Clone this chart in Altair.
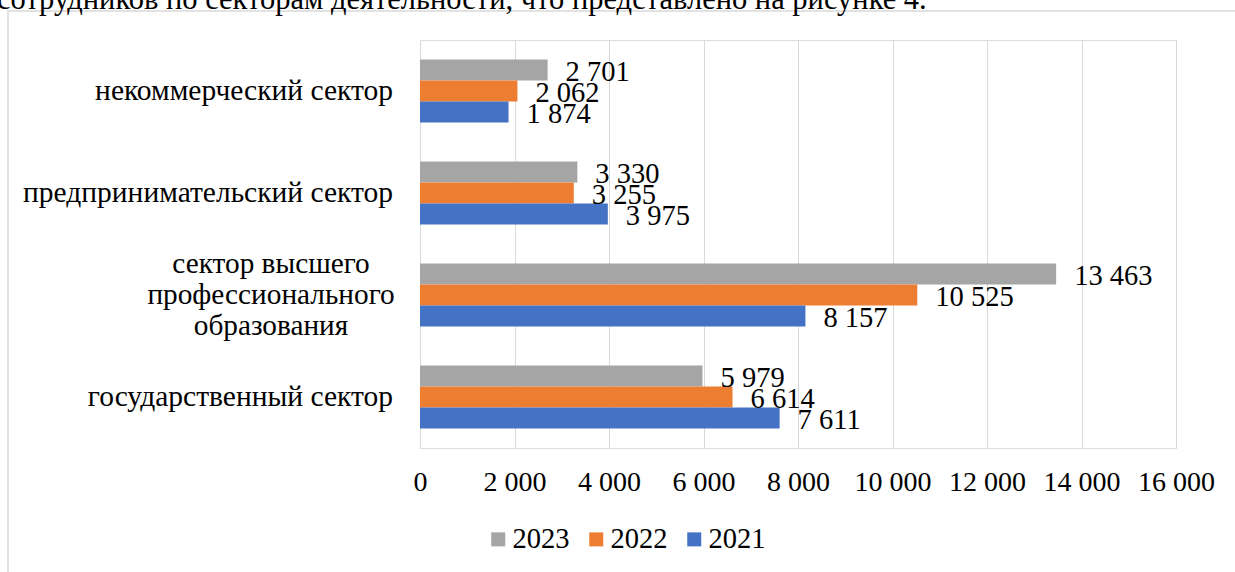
import altair as alt
import pandas as pd

# ---- data ----
categories = [
    "некоммерческий сектор",
    "предпринимательский сектор",
    "сектор высшего профессионального образования",
    "государственный сектор",
]
display_labels = [
    "некоммерческий сектор",
    "предпринимательский сектор",
    "сектор высшего\nпрофессионального\nобразования",
    "государственный сектор",
]
years = ["2023", "2022", "2021"]
v2023 = [2701, 3330, 13463, 5979]
v2022 = [2062, 3255, 10525, 6614]
v2021 = [1874, 3975, 8157, 7611]
x_ticks = [0, 2000, 4000, 6000, 8000, 10000, 12000, 14000, 16000]
top_line = "сотрудников по секторам деятельности, что представлено на рисунке 4."

colors = ["#A5A5A5", "#ED7D31", "#4472C4"]
FONT = "Liberation Serif, Times New Roman, DejaVu Serif, serif"
FS = 28

rows = []
for year, vals in zip(years, [v2023, v2022, v2021]):
    for cat, v in zip(categories, vals):
        rows.append({"category": cat, "year": year, "value": v,
                     "label": f"{v:,}".replace(",", " ")})
df = pd.DataFrame(rows)

lab_df = pd.DataFrame({"category": categories, "text": display_labels})
single_df = lab_df[~lab_df["text"].str.contains("\n")]
multi_df = lab_df[lab_df["text"].str.contains("\n")].copy()
multi_df["text"] = multi_df["text"].str.split("\n")

y_scale = alt.Scale(domain=categories, paddingInner=0.38, paddingOuter=0.19)
x_scale = alt.Scale(domain=[0, 16000], nice=False)

base = alt.Chart(df)

bars = base.mark_bar().encode(
    x=alt.X("value:Q", scale=x_scale,
            axis=alt.Axis(values=x_ticks, title=None, grid=True, gridColor="#D9D9D9",
                          gridWidth=1, domain=False, ticks=False, labelPadding=20,
                          labelFont=FONT, labelFontSize=FS, labelColor="#000000",
                          labelOverlap=False, labelBound=False, labelFlush=False,
                          labelExpr="replace(format(datum.value, ','), ',', ' ')")),
    y=alt.Y("category:N", scale=y_scale, axis=None, sort=categories),
    yOffset=alt.YOffset("year:N", scale=alt.Scale(domain=years)),
    color=alt.Color("year:N", scale=alt.Scale(domain=years, range=colors),
                    legend=alt.Legend(title=None, orient="none", direction="horizontal",
                                      legendX=64, legendY=485, symbolType="square",
                                      symbolSize=196, symbolStrokeWidth=0,
                                      labelFont=FONT, labelFontSize=28.5,
                                      labelColor="#000000", labelOffset=0,
                                      columnPadding=12, labelLimit=200)),
)

values_text = base.mark_text(align="left", baseline="middle", dx=18, dy=2,
                             font=FONT, fontSize=28.5, color="#000000").encode(
    x=alt.X("value:Q", scale=x_scale),
    y=alt.Y("category:N", scale=y_scale, sort=categories),
    yOffset=alt.YOffset("year:N", scale=alt.Scale(domain=years)),
    text="label:N",
)

cat_single = alt.Chart(single_df).mark_text(
    align="right", baseline="middle", font=FONT, fontSize=29.5, color="#000000"
).encode(
    x=alt.value(-27),
    y=alt.Y("category:N", scale=y_scale, sort=categories),
    text="text:N",
)

cat_multi = alt.Chart(multi_df).mark_text(
    align="center", baseline="middle", font=FONT, fontSize=29.3, color="#000000",
    lineHeight=31, dy=-31
).encode(
    x=alt.value(-149),
    y=alt.Y("category:N", scale=y_scale, sort=categories),
    text="text",
)

top_text = alt.Chart(pd.DataFrame({"t": [top_line]})).mark_text(
    align="left", baseline="alphabetic", font=FONT, fontSize=30.5, color="#000000"
).encode(x=alt.value(-423), y=alt.value(-31), text="t:N")

frame = alt.Chart(pd.DataFrame({"a": [0]})).mark_rect(
    fill=None, stroke="#D9D9D9", strokeWidth=1.5
).encode(x=alt.value(-412), x2=alt.value(830), y=alt.value(-29), y2=alt.value(545))

chart = alt.layer(frame, top_text, bars, values_text, cat_single, cat_multi).properties(
    width=756, height=408,
    autosize=alt.AutoSizeParams(type="none"),
    padding={"left": 420, "top": 40, "right": 59, "bottom": 124},
).configure_view(stroke=None).configure(background="#FFFFFF")

chart.save("out.html", embed_options={"renderer": "svg", "actions": False})
